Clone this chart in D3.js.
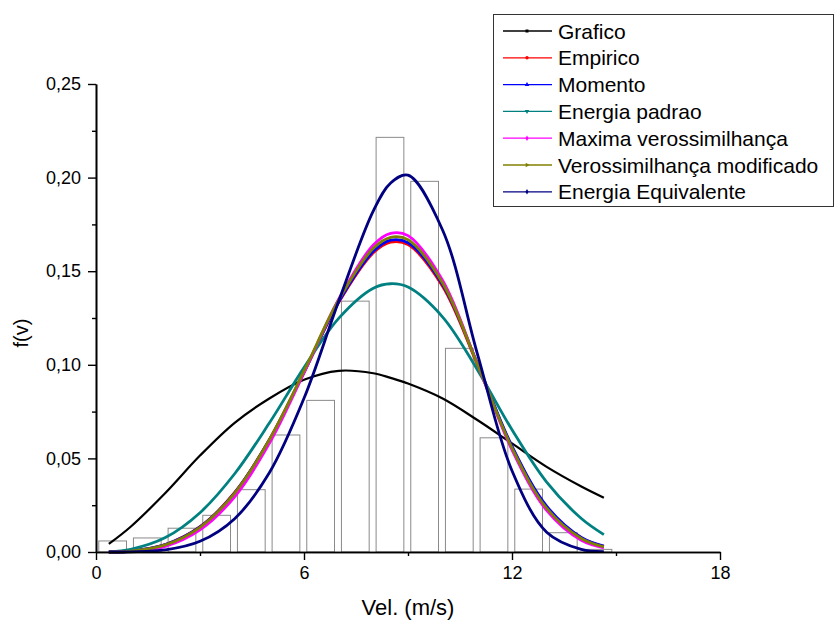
<!DOCTYPE html>
<html>
<head>
<meta charset="utf-8">
<script src="https://cdn.jsdelivr.net/npm/d3@7"></script>
<style>
  body { margin: 0; background: #fff; }
  text { font-family: "Liberation Sans", Arial, sans-serif; fill: #000; }
</style>
</head>
<body>
<div id="chart"></div>
<script>
// histogram bins (left edge of each 1 m/s class) and observed frequency
var bins = [0, 1, 2, 3, 4, 5, 6, 7, 8, 9, 10, 11, 12, 13, 14];
var freq = [0.0059, 0.0075, 0.0127, 0.0196, 0.0333, 0.0625, 0.081, 0.134, 0.2215, 0.198, 0.1088, 0.061, 0.0336, 0.0103, 0.0014];

var vel = [0.37, 1, 2, 3, 4, 5, 6, 7, 8, 8.5, 9, 10, 11, 12, 13, 14, 14.65];

var grafico     = [0.0043, 0.0135, 0.0315, 0.0515, 0.069, 0.082, 0.092, 0.0968, 0.0955, 0.093, 0.090, 0.082, 0.0705, 0.058, 0.0455, 0.035, 0.029];
var empirico    = [0, 0.0005, 0.0040, 0.0135, 0.0318, 0.0600, 0.0960, 0.1332, 0.1598, 0.1655, 0.1642, 0.1418, 0.1000, 0.0560, 0.0240, 0.0075, 0.0030];
var momento     = [0, 0.0005, 0.0040, 0.0134, 0.0316, 0.0598, 0.0960, 0.1336, 0.1606, 0.1666, 0.1652, 0.1428, 0.1008, 0.0565, 0.0245, 0.0078, 0.0032];
var padrao      = [0.0001, 0.0014, 0.0077, 0.0210, 0.0418, 0.0689, 0.0985, 0.1248, 0.1409, 0.1433, 0.1415, 0.1255, 0.0974, 0.0653, 0.0373, 0.0179, 0.0093];
var maxima      = [0, 0.0003, 0.0030, 0.0118, 0.0295, 0.0580, 0.0957, 0.1350, 0.1640, 0.1702, 0.1690, 0.1450, 0.1005, 0.0545, 0.0222, 0.0062, 0.0022];
var modificado  = [0, 0.0004, 0.0038, 0.0132, 0.0315, 0.0600, 0.0967, 0.1346, 0.1622, 0.1681, 0.1668, 0.1436, 0.1005, 0.0556, 0.0234, 0.0072, 0.0027];
var equivalente = [0, 0.0001, 0.0011, 0.0057, 0.0178, 0.0423, 0.0821, 0.1339, 0.1822, 0.1971, 0.2013, 0.1719, 0.1060, 0.0434, 0.0106, 0.0014, 0.0002];

var seriesNames  = ["Grafico", "Empirico", "Momento", "Energia padrao", "Maxima verossimilhança", "Verossimilhança modificado", "Energia Equivalente"];
var seriesColors = ["#000000", "#ff0000", "#0000ff", "#008080", "#ff00ff", "#808000", "#000080"];
var seriesValues = [grafico, empirico, momento, padrao, maxima, modificado, equivalente];
var seriesSymbols = [d3.symbolSquare, d3.symbolCircle, d3.symbolTriangle, d3.symbolTriangle, d3.symbolDiamond, d3.symbolTriangle, d3.symbolDiamond];

var xMajor = [0, 6, 12, 18],
    xMinor = [3, 9, 15],
    yMajor = [0, 0.05, 0.10, 0.15, 0.20, 0.25],
    yMinor = [0.025, 0.075, 0.125, 0.175, 0.225];

var width = 835, height = 621;

var svg = d3.select("#chart").append("svg")
    .attr("width", width)
    .attr("height", height);

// scales: plot box
var x = d3.scaleLinear().domain([0, 18]).range([96, 720]);
var y = d3.scaleLinear().domain([0, 0.25]).range([552, 84]);

// histogram bars, outlined only
svg.append("g").selectAll("rect")
    .data(bins)
    .enter().append("rect")
    .attr("x", d => x(d + 0.08))
    .attr("width", d => x(d + 0.88) - x(d + 0.08))
    .attr("y", (d, i) => y(freq[i]))
    .attr("height", (d, i) => y(0) - y(freq[i]))
    .attr("fill", "none")
    .attr("stroke", "#8a8a8a")
    .attr("stroke-width", 1);

// the distribution curves
var line = d3.line()
    .x((d, i) => x(vel[i]))
    .y(d => y(d))
    .curve(d3.curveCatmullRom);

seriesValues.forEach(function(vals, k){
  svg.append("path")
      .datum(vals)
      .attr("fill", "none")
      .attr("stroke", seriesColors[k])
      .attr("stroke-width", k == 0 ? 2.2 : 2.8)
      .attr("d", line);
});

// axes with comma decimals
var fmtY = v => d3.format(".2f")(v).replace(".", ",");

svg.append("g")
    .attr("transform", "translate(0," + y(0) + ")")
    .call(d3.axisBottom(x).tickValues(xMajor).tickSize(8).tickPadding(6).tickSizeOuter(0));
svg.append("g")
    .attr("transform", "translate(0," + y(0) + ")")
    .call(d3.axisBottom(x).tickValues(xMinor).tickSize(4).tickFormat("").tickSizeOuter(0));

svg.append("g")
    .attr("transform", "translate(" + x(0) + ",0)")
    .call(d3.axisLeft(y).tickValues(yMajor).tickFormat(fmtY).tickSize(8).tickPadding(7).tickSizeOuter(0));
svg.append("g")
    .attr("transform", "translate(" + x(0) + ",0)")
    .call(d3.axisLeft(y).tickValues(yMinor).tickSize(4).tickFormat("").tickSizeOuter(0));

svg.selectAll(".domain").attr("stroke", "#000").attr("stroke-width", 1.6);
svg.selectAll(".tick line").attr("stroke", "#000").attr("stroke-width", 1.4);
svg.selectAll(".tick text")
    .style("font-family", "'Liberation Sans', Arial, sans-serif")
    .style("font-size", "18px")
    .attr("fill", "#000");

// axis titles
svg.append("text")
    .attr("x", 408)
    .attr("y", 615)
    .attr("text-anchor", "middle")
    .style("font-size", "22px")
    .text("Vel. (m/s)");

svg.append("text")
    .attr("transform", "translate(28,333) rotate(-90)")
    .attr("text-anchor", "middle")
    .style("font-size", "20px")
    .text("f(v)");

// legend box in the upper right
var legend = svg.append("g");
legend.append("rect")
    .attr("x", 493.5)
    .attr("y", 14.5)
    .attr("width", 340)
    .attr("height", 192)
    .attr("fill", "#fff")
    .attr("stroke", "#333")
    .attr("stroke-width", 1);

seriesNames.forEach(function(name, k){
  var ly = 31 + k * 26.8;
  legend.append("line")
      .attr("x1", 503).attr("x2", 552)
      .attr("y1", ly).attr("y2", ly)
      .attr("stroke", seriesColors[k])
      .attr("stroke-width", 1.3);
  legend.append("path")
      .attr("d", d3.symbol().type(seriesSymbols[k]).size(9))
      .attr("transform", "translate(527," + ly + ")" + (k == 3 ? " rotate(180)" : k == 5 ? " rotate(90)" : ""))
      .attr("fill", seriesColors[k]);
  legend.append("text")
      .attr("x", 558)
      .attr("y", ly + 7.5)
      .style("font-size", "21px")
      .text(name);
});
</script>
</body>
</html>
